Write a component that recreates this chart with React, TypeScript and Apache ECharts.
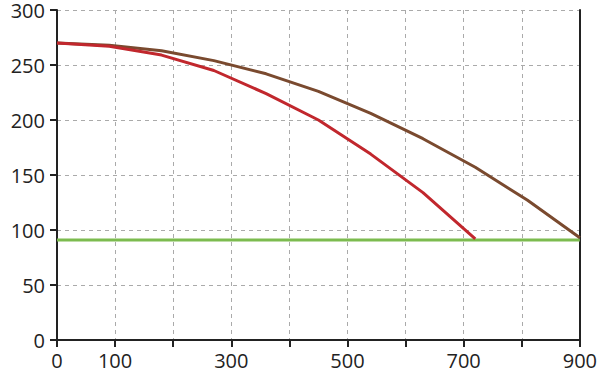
import React, { useEffect, useRef } from "react";
import * as echarts from "echarts";

const xPoints = [0, 90, 180, 270, 360, 450, 540, 630, 720, 810, 900];
const brownValues = [270, 268, 263, 254, 242, 226, 206, 183, 157, 127, 93];
const redValues = [270, 267, 259, 245, 224, 200, 169, 134, 92];
const greenX = [0, 900];
const greenValues = [91, 91];
const xShownLabels = [0, 100, 300, 500, 700, 900];

const font = "'Open Sans', 'Noto Sans', sans-serif";

export default function App() {
  const ref = useRef<HTMLDivElement>(null);
  useEffect(() => {
    if (!ref.current) return;
    const chart = echarts.init(ref.current, null, { renderer: "svg" });
    const pair = (xs: number[], ys: number[]) => ys.map((y, i) => [xs[i], y]);
    chart.setOption({
      animation: false,
      grid: { left: 57, right: 20, top: 7, bottom: 38 },
      xAxis: {
        type: "value",
        min: 0,
        max: 900,
        interval: 100,
        axisLine: { show: true, onZero: false, lineStyle: { color: "#222", width: 2 } },
        axisTick: { show: true, length: 7, lineStyle: { color: "#222", width: 2 } },
        axisLabel: {
          color: "#222",
          fontSize: 20,
          fontFamily: font,
          margin: 10,
          formatter: (v: number) => (xShownLabels.includes(v) ? String(v) : ""),
        },
        splitLine: { show: true, lineStyle: { color: "#aaa", type: [4, 4], width: 1 } },
      },
      yAxis: [
        {
          type: "value",
          min: 0,
          max: 300,
          interval: 50,
          axisLine: { show: true, lineStyle: { color: "#222", width: 2 } },
          axisTick: { show: true, length: 7, lineStyle: { color: "#222", width: 2 } },
          axisLabel: { color: "#222", fontSize: 20, fontFamily: font, margin: 12 },
          splitLine: { show: true, lineStyle: { color: "#aaa", type: [4, 4], width: 1 } },
        },
        {
          type: "value",
          min: 0,
          max: 300,
          interval: 50,
          position: "right",
          axisLine: { show: true, lineStyle: { color: "#222", width: 2 } },
          axisTick: { show: false },
          axisLabel: { show: false },
          splitLine: { show: false },
        },
      ],
      series: [
        {
          type: "line",
          data: pair(greenX, greenValues),
          symbol: "none",
          lineStyle: { color: "#7cbb4f", width: 3 },
        },
        {
          type: "line",
          data: pair(xPoints, brownValues),
          symbol: "none",
          lineStyle: { color: "#7a4a2f", width: 3 },
        },
        {
          type: "line",
          data: pair(xPoints, redValues),
          symbol: "none",
          lineStyle: { color: "#c1272d", width: 3 },
        },
      ],
    });
    return () => chart.dispose();
  }, []);
  return <div ref={ref} style={{ width: 600, height: 378, position: "absolute", left: 0, top: 0 }} />;
}
